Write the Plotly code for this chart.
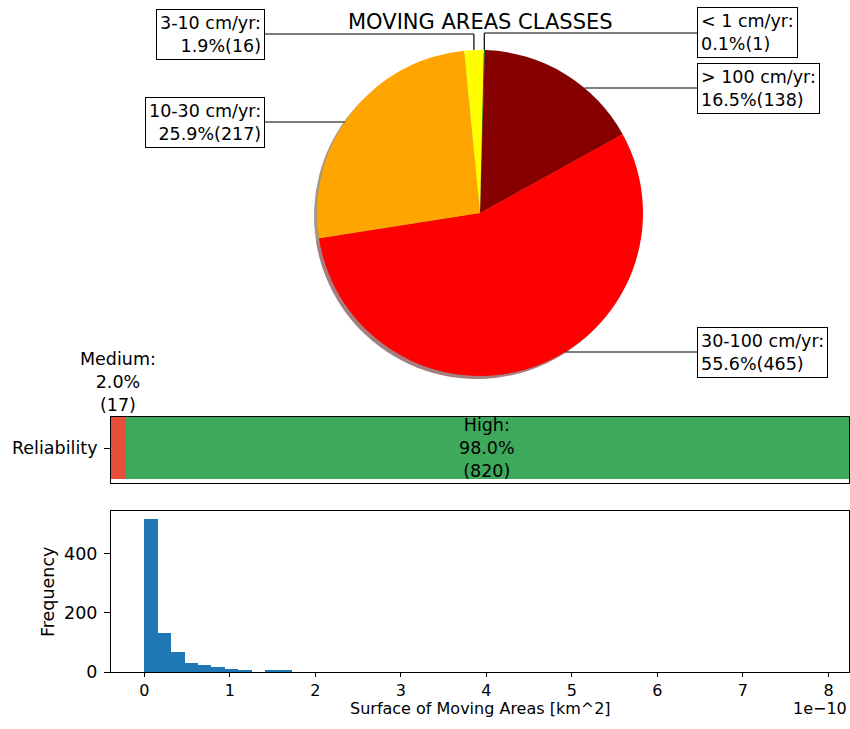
import math
import numpy as np
import plotly.graph_objects as go

# ---------------- data ----------------
pie_labels = ["< 1 cm/yr", "> 100 cm/yr", "30-100 cm/yr", "10-30 cm/yr", "3-10 cm/yr"]
pie_values = [1, 138, 465, 217, 16]
pie_colors = ["#008000", "#870000", "#ff0000", "#ffa500", "#ffff00"]

rel_labels = ["Medium", "High"]
rel_values = [17, 820]
rel_colors = ["#e6503a", "#3fa95b"]

hist_counts = [517, 132, 68, 30, 25, 18, 9, 5, 0, 4, 4, 0, 0, 0, 0, 0, 0, 0, 0, 0,
               0, 0, 0, 0, 0, 0, 0, 0, 0, 0, 0, 0, 0, 0, 0, 0, 0, 0, 0, 0,
               0, 0, 0, 0, 0, 0, 0, 0, 0, 0]
surface_min = 0.0
surface_max = 7.85e-10
x_tick_values = [0, 1, 2, 3, 4, 5, 6, 7, 8]
y_tick_values = [0, 200, 400]

# ---------------- layout helpers ----------------
W, H = 850, 720
def px(x):
    return x / W
def py(y):
    return 1 - y / H

FONT = "DejaVu Sans"
LBL = 17.5
BOTTOM = 16
fig = go.Figure()

# ---------------- pie ----------------
cx, cy, R = 480, 213, 163
start_deg = 1.3
shadow_dx, shadow_dy = -3, 3

def darken(hexc, f=0.3, a=0.5):
    r, g, b = int(hexc[1:3], 16), int(hexc[3:5], 16), int(hexc[5:7], 16)
    return f"rgba({int(r*f)},{int(g*f)},{int(b*f)},{a})"

fig.add_trace(go.Pie(
    values=pie_values, labels=pie_labels, sort=False, direction="clockwise",
    rotation=start_deg, textinfo="none", hoverinfo="skip", showlegend=False,
    marker=dict(colors=[darken(c) for c in pie_colors], line=dict(width=0)),
    domain=dict(x=[px(cx - R + shadow_dx), px(cx + R + shadow_dx)],
                y=[py(cy + R + shadow_dy), py(cy - R + shadow_dy)]),
))
fig.add_trace(go.Pie(
    values=pie_values, labels=pie_labels, sort=False, direction="clockwise",
    rotation=start_deg, textinfo="none", showlegend=False,
    marker=dict(colors=pie_colors, line=dict(width=0)),
    domain=dict(x=[px(cx - R), px(cx + R)], y=[py(cy + R), py(cy - R)]),
))

total = sum(pie_values)
label_y = [33, 88, 352, 122, 34]
label_side = [1, 1, 1, -1, -1]
label_vertical = [True, False, False, False, True]
box_x_right = 697
box_x_left = 265
shapes = []
annotations = []
cum = 0.0
for lab, v, ly, side, vert in zip(pie_labels, pie_values, label_y, label_side, label_vertical):
    frac = v / total
    mid = math.radians(start_deg + (cum + frac / 2) * 360)
    cum += frac
    ex = cx + R * math.sin(mid)
    ey = cy - R * math.cos(mid)
    bx = box_x_right if side > 0 else box_x_left
    if vert:
        shapes.append(dict(type="line", xref="paper", yref="paper",
                           x0=px(ex), y0=py(ey), x1=px(ex), y1=py(ly),
                           line=dict(color="black", width=1.2)))
        shapes.append(dict(type="line", xref="paper", yref="paper",
                           x0=px(ex), y0=py(ly), x1=px(bx), y1=py(ly),
                           line=dict(color="black", width=1.2)))
    else:
        dy = ly - cy
        hx = cx + side * math.sqrt(max(R * R - dy * dy, 0))
        shapes.append(dict(type="line", xref="paper", yref="paper",
                           x0=px(hx), y0=py(ly), x1=px(bx), y1=py(ly),
                           line=dict(color="black", width=1.2)))
    text = f"{lab}:<br>{frac*100:.1f}%({v})"
    annotations.append(dict(
        xref="paper", yref="paper", x=px(bx), y=py(ly),
        xanchor="left" if side > 0 else "right", yanchor="middle",
        text=text, showarrow=False, align="left" if side > 0 else "right",
        bordercolor="black", borderwidth=1, borderpad=3, bgcolor="white",
        font=dict(family=FONT, size=LBL, color="black")))

annotations.append(dict(xref="paper", yref="paper", x=px(cx), y=py(22),
                        text="MOVING AREAS CLASSES", showarrow=False,
                        xanchor="center", yanchor="middle",
                        font=dict(family=FONT, size=21, color="black")))

# ---------------- reliability bar ----------------
rel_total = sum(rel_values)
base = 0
for lab, v, c in zip(rel_labels, rel_values, rel_colors):
    fig.add_trace(go.Bar(
        x=[v], y=["Reliability"], base=[base], orientation="h", width=0.8,
        marker=dict(color=c, line=dict(width=0)), showlegend=False,
        xaxis="x", yaxis="y"))
    mid = base + v / 2
    txt = f"{lab}:<br>{v/rel_total*100:.1f}%<br>({v})"
    if v / rel_total < 0.1:
        annotations.append(dict(xref="x", yref="y", x=mid, y=0.4, yanchor="bottom",
                                xanchor="center", text=txt, showarrow=False,
                                font=dict(family=FONT, size=LBL, color="black")))
    else:
        annotations.append(dict(xref="x", yref="y", x=mid, y=0, yanchor="middle",
                                xanchor="center", text=txt, showarrow=False,
                                font=dict(family=FONT, size=LBL, color="black")))
    base += v

# ---------------- histogram ----------------
edges = np.linspace(surface_min, surface_max, len(hist_counts) + 1)
centers = (edges[:-1] + edges[1:]) / 2
bw = edges[1] - edges[0]
fig.add_trace(go.Bar(
    x=centers, y=hist_counts, width=bw, marker=dict(color="#1f77b4", line=dict(width=0)),
    showlegend=False, xaxis="x2", yaxis="y2"))

scale = 1e-10
annotations.append(dict(xref="paper", yref="paper", x=px(849), y=0,
                        text="1e\u221210", showarrow=False, xanchor="right",
                        yanchor="bottom",
                        font=dict(family=FONT, size=BOTTOM, color="black")))
annotations.append(dict(xref="paper", yref="paper", x=px(480), y=0,
                        text="Surface of Moving Areas [km^2]", showarrow=False,
                        xanchor="center", yanchor="bottom",
                        font=dict(family=FONT, size=BOTTOM, color="black")))
annotations.append(dict(xref="paper", yref="paper", x=px(48), y=py(592),
                        text="Frequency", showarrow=False, textangle=-90,
                        xanchor="center", yanchor="middle",
                        font=dict(family=FONT, size=LBL, color="black")))

ax_x = [px(111), px(849)]
yax_common = dict(showgrid=False, zeroline=False, ticks="outside", ticklen=6,
                  tickcolor="black", showline=True, mirror=True, linecolor="black",
                  linewidth=1, ticklabelstandoff=3, automargin=False,
                  tickfont=dict(family=FONT, size=LBL, color="black"))
fig.update_layout(
    width=W, height=H, margin=dict(l=0, r=0, t=0, b=0, autoexpand=False),
    paper_bgcolor="white", plot_bgcolor="white",
    barmode="overlay", bargap=0,
    font=dict(family=FONT, size=LBL, color="black"),
    shapes=shapes, annotations=annotations,
    xaxis=dict(domain=ax_x, anchor="y", range=[0, rel_total], showgrid=False,
               zeroline=False, showticklabels=False, ticks="", automargin=False,
               showline=True, mirror=True, linecolor="black", linewidth=1),
    yaxis=dict(domain=[py(483), py(417)], anchor="x", range=[-0.45, 0.4], **yax_common),
    xaxis2=dict(domain=ax_x, anchor="y2", range=[-0.39 * scale, 8.24 * scale],
                tickvals=[t * scale for t in x_tick_values],
                ticktext=[str(t) for t in x_tick_values], automargin=False,
                showgrid=False, zeroline=False, ticks="outside", ticklen=4,
                tickcolor="black", showline=True, mirror=True, linecolor="black",
                linewidth=1, tickfont=dict(family=FONT, size=16, color="black")),
    yaxis2=dict(domain=[py(672), py(511)], anchor="x2", range=[0, 543],
                tickvals=y_tick_values, **yax_common),
)

fig.write_html("out.html")
